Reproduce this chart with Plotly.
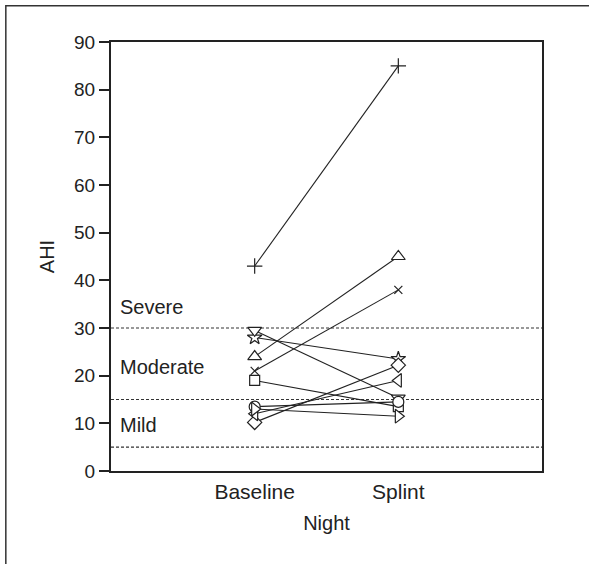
import plotly.graph_objects as go

nights = ["Baseline", "Splint"]
symbols = ["cross-thin", "triangle-up", "x-thin", "star", "triangle-down",
           "square", "diamond", "triangle-left", "circle", "triangle-right"]
baseline = [43, 24, 21, 28, 29.5, 19, 10.2, 12, 13.5, 13]
splint = [85, 45, 38, 23.5, 15.3, 13.5, 22.2, 19, 14.5, 11.5]
thresholds = [30, 15, 5]
band_labels = ["Severe", "Moderate", "Mild"]
band_label_y = [34.5, 21.8, 9.7]

INK = "#222222"
FONT = "Liberation Sans, Arial, sans-serif"
W, H = 589, 564
L, R, T, B = 111, 46.5, 42, 93.3
PW, PH = W - L - R, H - T - B

SIZES = {"cross-thin": 11, "x-thin": 8, "triangle-up": 12, "triangle-down": 12,
         "triangle-left": 12, "triangle-right": 12, "star": 11, "square": 10,
         "diamond": 11, "circle": 11}

fig = go.Figure()

for sym, b, s in zip(symbols, baseline, splint):
    thin = sym.endswith("-thin")
    fig.add_trace(go.Scatter(
        x=nights, y=[b, s], mode="lines+markers",
        line=dict(color=INK, width=1.1),
        marker=dict(symbol=sym, size=SIZES[sym],
                    color="white" if not thin else INK,
                    line=dict(color=INK, width=1.2)),
        showlegend=False, cliponaxis=False,
    ))

for t in thresholds:
    fig.add_shape(type="line", xref="paper", x0=0, x1=1, yref="y", y0=t, y1=t,
                  line=dict(color="#333333", width=1.1, dash="3px,2px"), layer="below")

for lab, yv in zip(band_labels, band_label_y):
    fig.add_annotation(text=lab, xref="paper", x=0.017, xanchor="left",
                       yref="y", y=yv, yanchor="middle", showarrow=False,
                       font=dict(size=20, color=INK, family=FONT))

# outer frame around the figure (page pixels converted to paper fractions)
fig.add_shape(type="rect", xref="paper", yref="paper",
              x0=(5.7 - L) / PW, x1=(595 - L) / PW,
              y0=(H - B - 620) / PH, y1=(H - B - 5.7) / PH,
              line=dict(color="#333333", width=1.5), fillcolor="rgba(0,0,0,0)")

fig.update_layout(
    width=W, height=H,
    margin=dict(l=L, r=R, t=T, b=B),
    paper_bgcolor="white", plot_bgcolor="white",
    font=dict(family=FONT, color=INK),
    xaxis=dict(type="category", categoryorder="array", categoryarray=nights,
               range=[-1, 2], showgrid=False, zeroline=False,
               showline=True, linewidth=2, linecolor=INK, mirror=True,
               ticks="", ticklabelstandoff=1,
               tickfont=dict(size=21, color=INK, family=FONT),
               title=dict(text="Night", font=dict(size=20, color=INK, family=FONT),
                          standoff=14)),
    yaxis=dict(range=[0, 90], tickvals=list(range(0, 91, 10)),
               showgrid=False, zeroline=False,
               showline=True, linewidth=2, linecolor=INK, mirror=True,
               ticks="outside", ticklen=10, tickwidth=2, tickcolor=INK,
               tickfont=dict(size=19, color=INK, family=FONT),
               title=dict(text="AHI", font=dict(size=20, color=INK, family=FONT),
                          standoff=14)),
)

fig.write_html("out.html", config={"displayModeBar": False},
               post_script="document.body.style.margin='0';")
